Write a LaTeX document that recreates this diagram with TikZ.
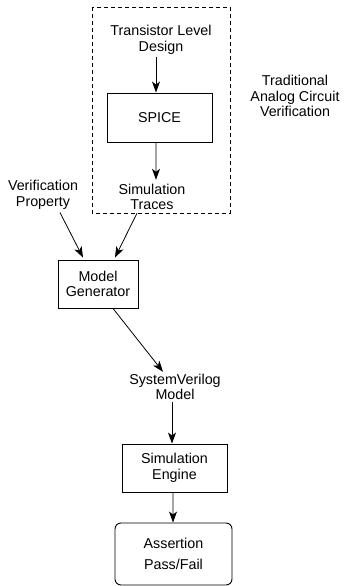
\documentclass[tikz,border=0pt]{standalone}
\usepackage{fontspec}
\setmainfont{Liberation Sans}
\usetikzlibrary{arrows.meta}
\begin{document}
\begin{tikzpicture}[x=1bp,y=-1bp,
  every node/.style={font=\fontsize{14.3bp}{15.5bp}\selectfont, align=center},
  blockbox/.style={draw, line width=0.9bp, inner sep=0pt},
  label/.style={inner sep=2bp},
  flow/.style={line width=0.8bp, -{Stealth[length=11bp,width=8bp,inset=3bp]}}]
\useasboundingbox (0,0) rectangle (345,586);

% dashed frame around the classical SPICE flow
\draw[line width=0.8bp, dash pattern=on 4bp off 3bp] (92,7) rectangle (230,213);

\node[label] (tld) at (161,40) {Transistor Level\\Design};
\node[blockbox, minimum width=105bp, minimum height=49bp] (spice) at (159.5,117.5) {SPICE};
\node[label] (traces) at (152,197) {Simulation\\Traces};
\node[label] (trad) at (295,96) {Traditional\\Analog Circuit\\Verification};

\node[label] (prop) at (43,195) {Verification\\Property};
\node[blockbox, minimum width=80bp, minimum height=48bp] (mg) at (98,284) {Model\\Generator};
\node[label] (sv) at (175,387) {SystemVerilog\\Model};
\node[blockbox, minimum width=105bp, minimum height=48bp] (se) at (174.5,468) {Simulation\\Engine};
\node[blockbox, rounded corners=6bp, minimum width=117bp, minimum height=62bp,
      font=\fontsize{14.3bp}{21bp}\selectfont] (ap) at (173.5,554) {Assertion\\Pass/Fail};

\draw[flow] ([xshift=-5bp]tld.south) -- ([xshift=-3.5bp]spice.north);
\draw[flow] ([xshift=-3.5bp]spice.south) -- ([xshift=4bp,yshift=2bp]traces.north);
\draw[flow] ([xshift=17bp,yshift=-1bp]prop.south) -- ([xshift=-15bp,yshift=2bp]mg.north);
\draw[flow] ([xshift=-15bp,yshift=-1bp]traces.south) -- ([xshift=17bp,yshift=2bp]mg.north);
\draw[flow] ([xshift=15bp]mg.south) -- ([xshift=-12bp]sv.north);
\draw[flow] ([xshift=-3bp]sv.south) -- ([xshift=-2.5bp]se.north);
\draw[flow] ([xshift=-1.5bp]se.south) -- ([xshift=-0.5bp]ap.north);
\end{tikzpicture}
\end{document}
